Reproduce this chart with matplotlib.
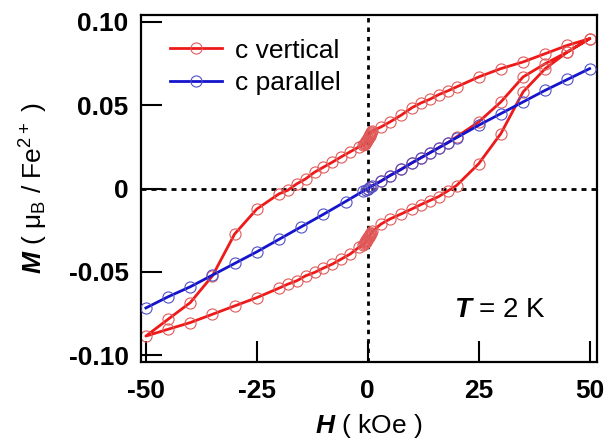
import numpy as np
import matplotlib
matplotlib.use("Agg")
import matplotlib.pyplot as plt

# c parallel (blue)
par_h = [-50, -45, -40, -35, -30, -25, -20, -15, -10, -5, -1, -0.5, 0,
         0.5, 1, 3, 5, 7.5, 10, 12, 14, 16, 18, 20, 25, 30, 35, 40, 45, 50]
par_m = [-0.0717, -0.065, -0.059, -0.052, -0.045, -0.038, -0.0305, -0.023, -0.0155, -0.0078, -0.0015, -0.0008, 0,
         0.0008, 0.0015, 0.0045, 0.0078, 0.0115, 0.0155, 0.0185, 0.0215, 0.0245, 0.0275, 0.0305, 0.038, 0.045, 0.052, 0.059, 0.0655, 0.072]

# c vertical (red): virgin curve, then decreasing branch, then increasing branch
virgin_h = [0, 0.5, 3, 5, 7.5, 10, 12, 14, 16, 18, 20, 25, 30, 35, 40, 45, 50]
virgin_m = [0, 0.001, 0.0045, 0.0078, 0.0115, 0.0155, 0.0185, 0.0215, 0.0245, 0.0275, 0.031,
            0.040, 0.052, 0.067, 0.075, 0.082, 0.090]

down_h = [45, 40, 35, 30, 25, 20, 18, 16, 14, 12, 10, 7.5, 5, 3, 1.0, 0.8, 0.7, 0.6, 0.5, 0.4, 0.3, 0.2, 0.1, 0,
          -0.1, -0.2, -0.3, -0.4, -0.5, -0.6, -0.7, -0.8, -1.0,
          -2, -4, -6, -8, -10, -12, -14, -16, -18, -20, -25, -30, -35, -40, -45, -50]
down_m = [0.086, 0.081, 0.076, 0.072, 0.067, 0.061, 0.0586, 0.0564, 0.0536, 0.0514, 0.0486, 0.044, 0.040, 0.037,
          0.0345, 0.0337, 0.0333, 0.0328, 0.0323, 0.0318, 0.0313, 0.0308, 0.0303, 0.0298,
          0.0294, 0.029, 0.0286, 0.0282, 0.0278, 0.0274, 0.027, 0.0266, 0.026,
          0.025, 0.022, 0.019, 0.0158, 0.0128, 0.0098, 0.0058, 0.0028, -0.001, -0.0032,
          -0.0123, -0.0273, -0.0524, -0.0685, -0.0785, -0.0886]

up_h = [-45, -40, -35, -30, -25, -20, -18, -16, -14, -12, -10, -8, -6, -4, -2,
        -1.0, -0.8, -0.7, -0.6, -0.5, -0.4, -0.3, -0.2, -0.1, 0,
        0.1, 0.2, 0.3, 0.4, 0.5, 0.6, 0.7, 0.8, 1.0, 3, 5, 7.5, 10, 12, 14, 16, 18, 20, 25, 30, 35, 40, 45, 50]
up_m = [-0.0845, -0.0805, -0.0755, -0.0705, -0.0655, -0.0598, -0.0574, -0.0554, -0.0524, -0.0504, -0.0478,
        -0.0454, -0.0424, -0.0394, -0.0353,
        -0.0338, -0.0332, -0.0328, -0.0324, -0.032, -0.0316, -0.0312, -0.0307, -0.0302, -0.0298,
        -0.0294, -0.029, -0.0286, -0.0282, -0.0278, -0.0274, -0.027, -0.0266, -0.0258,
        -0.0213, -0.0183, -0.0153, -0.0122, -0.0096, -0.0072, -0.0048, -0.0015, 0.0018,
        0.0149, 0.033, 0.058, 0.072, 0.082, 0.090]

vert_h = virgin_h + down_h + up_h
vert_m = virgin_m + down_m + up_m

xticks = [-50, -25, 0, 25, 50]
yticks = [-0.10, -0.05, 0, 0.05, 0.10]
ytick_labels = ["-0.10", "-0.05", "0", "0.05", "0.10"]

plt.rcParams["font.family"] = ["Liberation Sans", "DejaVu Sans"]
plt.rcParams["axes.unicode_minus"] = False
plt.rcParams["mathtext.fontset"] = "custom"
plt.rcParams["mathtext.rm"] = "Liberation Sans"
plt.rcParams["mathtext.it"] = "Liberation Sans:italic"
plt.rcParams["mathtext.bf"] = "Liberation Sans:bold:italic"

fig = plt.figure(figsize=(6.06, 4.41), dpi=100)
ax = fig.add_axes([0.2327, 0.179, 0.752, 0.787])

red = "#ee1a1a"
blue = "#1414cc"

# dotted zero lines
ax.axvline(0, color="black", lw=2, ls=(0, (1.6, 1.8)), zorder=1)
ax.axhline(0, color="black", lw=2, ls=(0, (1.8, 1.8)), zorder=1)

ax.plot(vert_h, vert_m, color=red, lw=2.0, marker="o", ms=8, mfc="none",
        mec="#e05a5a", mew=0.8, label="c vertical", zorder=2)
ax.plot(par_h, par_m, color=blue, lw=2.0, marker="o", ms=8, mfc="none",
        mec="#5050c8", mew=0.8, label="c parallel", zorder=3)

ax.set_xlim(-51.1, 51.6)
ax.set_ylim(-0.1042, 0.1042)
ax.set_xticks(xticks)
ax.set_xticklabels([str(t) for t in xticks], fontsize=19, fontweight="bold")
ax.set_yticks(yticks)
ax.set_yticklabels(ytick_labels, fontsize=19, fontweight="bold")
ax.tick_params(axis="both", direction="in", length=15, width=1.5)
ax.tick_params(axis="x", pad=12)
ax.tick_params(axis="y", pad=9)

for s in ax.spines.values():
    s.set_linewidth(1.6)

ax.set_xlabel(r"$\mathbf{H}$ ( kOe )", fontsize=19, labelpad=7)
ax.set_ylabel(r"$\mathbf{M}$ ( $\mathrm{\mu_B}$ / Fe$^{2+}$ )", fontsize=19, labelpad=13)

ax.text(0.787, 0.15, r"$\mathbf{T}$ = 2 K", transform=ax.transAxes, fontsize=20,
        ha="center", va="center")

ax.legend(loc="upper left", frameon=False, fontsize=19, handlelength=2.0,
          handletextpad=0.5, labelspacing=0.32, borderaxespad=0.3,
          bbox_to_anchor=(0.022, 0.985))

fig.savefig("out.png", dpi=100)
